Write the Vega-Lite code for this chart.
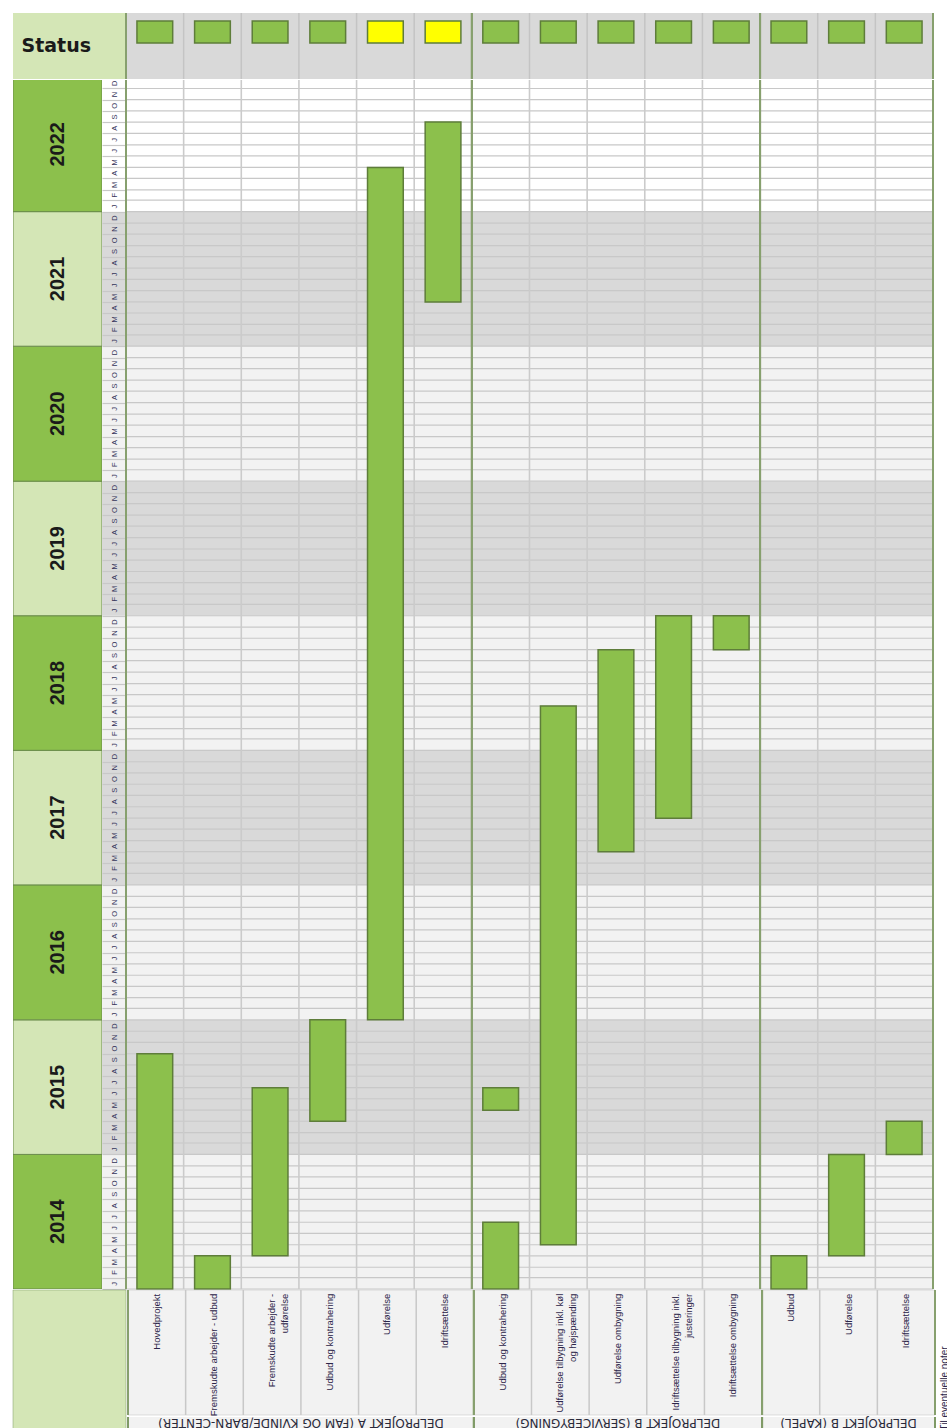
{
  "$schema": "https://vega.github.io/schema/vega-lite/v6.json",
  "padding": {"left": 12, "top": 12, "right": 0, "bottom": 0},
  "background": "#FFFFFF",
  "config": {"view": {"stroke": null}, "font": "Liberation Sans"},
  "datasets": {
    "tasks": [
      {"key": "A1", "label": "Hovedprojekt", "status": "green"},
      {"key": "A2", "label": "Fremskudte arbejder - udbud", "status": "green"},
      {"key": "A3", "label": ["Fremskudte arbejder -", "udførelse"], "status": "green"},
      {"key": "A4", "label": "Udbud og kontrahering", "status": "green"},
      {"key": "A5", "label": "Udførelse", "status": "yellow"},
      {"key": "A6", "label": "Idriftsættelse", "status": "yellow"},
      {"key": "B1", "label": "Udbud og kontrahering", "status": "green"},
      {"key": "B2", "label": ["Udførelse tilbygning inkl. køl", "og højspænding"], "status": "green"},
      {"key": "B3", "label": "Udførelse ombygning", "status": "green"},
      {"key": "B4", "label": ["Idriftsættelse tilbygning inkl.", "justeringer"], "status": "green"},
      {"key": "B5", "label": "Idriftsættelse ombygning", "status": "green"},
      {"key": "K1", "label": "Udbud", "status": "green"},
      {"key": "K2", "label": "Udførelse", "status": "green"},
      {"key": "K3", "label": "Idriftsættelse", "status": "green"}
    ],
    "bars": [
      {"key": "A1", "start": "2014-01-01", "end": "2015-10-01"},
      {"key": "A2", "start": "2014-01-01", "end": "2014-04-01"},
      {"key": "A3", "start": "2014-04-01", "end": "2015-07-01"},
      {"key": "A4", "start": "2015-04-01", "end": "2016-01-01"},
      {"key": "A5", "start": "2016-01-01", "end": "2022-05-01"},
      {"key": "A6", "start": "2021-05-01", "end": "2022-09-01"},
      {"key": "B1", "start": "2014-01-01", "end": "2014-07-01"},
      {"key": "B1", "start": "2015-05-01", "end": "2015-07-01"},
      {"key": "B2", "start": "2014-05-01", "end": "2018-05-01"},
      {"key": "B3", "start": "2017-04-01", "end": "2018-10-01"},
      {"key": "B4", "start": "2017-07-01", "end": "2019-01-01"},
      {"key": "B5", "start": "2018-10-01", "end": "2019-01-01"},
      {"key": "K1", "start": "2014-01-01", "end": "2014-04-01"},
      {"key": "K2", "start": "2014-04-01", "end": "2015-01-01"},
      {"key": "K3", "start": "2015-01-01", "end": "2015-04-01"}
    ],
    "years": [
      {"year": "2014", "start": "2014-01-01", "end": "2015-01-01", "shade": "light"},
      {"year": "2015", "start": "2015-01-01", "end": "2016-01-01", "shade": "dark"},
      {"year": "2016", "start": "2016-01-01", "end": "2017-01-01", "shade": "light"},
      {"year": "2017", "start": "2017-01-01", "end": "2018-01-01", "shade": "dark"},
      {"year": "2018", "start": "2018-01-01", "end": "2019-01-01", "shade": "light"},
      {"year": "2019", "start": "2019-01-01", "end": "2020-01-01", "shade": "dark"},
      {"year": "2020", "start": "2020-01-01", "end": "2021-01-01", "shade": "light"},
      {"year": "2021", "start": "2021-01-01", "end": "2022-01-01", "shade": "dark"},
      {"year": "2022", "start": "2022-01-01", "end": "2023-01-01", "shade": "white"}
    ],
    "months": [
      {"m": "2014-01-01"}, {"m": "2014-02-01"}, {"m": "2014-03-01"}, {"m": "2014-04-01"}, {"m": "2014-05-01"}, {"m": "2014-06-01"}, {"m": "2014-07-01"}, {"m": "2014-08-01"}, {"m": "2014-09-01"}, {"m": "2014-10-01"}, {"m": "2014-11-01"}, {"m": "2014-12-01"},
      {"m": "2015-01-01"}, {"m": "2015-02-01"}, {"m": "2015-03-01"}, {"m": "2015-04-01"}, {"m": "2015-05-01"}, {"m": "2015-06-01"}, {"m": "2015-07-01"}, {"m": "2015-08-01"}, {"m": "2015-09-01"}, {"m": "2015-10-01"}, {"m": "2015-11-01"}, {"m": "2015-12-01"},
      {"m": "2016-01-01"}, {"m": "2016-02-01"}, {"m": "2016-03-01"}, {"m": "2016-04-01"}, {"m": "2016-05-01"}, {"m": "2016-06-01"}, {"m": "2016-07-01"}, {"m": "2016-08-01"}, {"m": "2016-09-01"}, {"m": "2016-10-01"}, {"m": "2016-11-01"}, {"m": "2016-12-01"},
      {"m": "2017-01-01"}, {"m": "2017-02-01"}, {"m": "2017-03-01"}, {"m": "2017-04-01"}, {"m": "2017-05-01"}, {"m": "2017-06-01"}, {"m": "2017-07-01"}, {"m": "2017-08-01"}, {"m": "2017-09-01"}, {"m": "2017-10-01"}, {"m": "2017-11-01"}, {"m": "2017-12-01"},
      {"m": "2018-01-01"}, {"m": "2018-02-01"}, {"m": "2018-03-01"}, {"m": "2018-04-01"}, {"m": "2018-05-01"}, {"m": "2018-06-01"}, {"m": "2018-07-01"}, {"m": "2018-08-01"}, {"m": "2018-09-01"}, {"m": "2018-10-01"}, {"m": "2018-11-01"}, {"m": "2018-12-01"},
      {"m": "2019-01-01"}, {"m": "2019-02-01"}, {"m": "2019-03-01"}, {"m": "2019-04-01"}, {"m": "2019-05-01"}, {"m": "2019-06-01"}, {"m": "2019-07-01"}, {"m": "2019-08-01"}, {"m": "2019-09-01"}, {"m": "2019-10-01"}, {"m": "2019-11-01"}, {"m": "2019-12-01"},
      {"m": "2020-01-01"}, {"m": "2020-02-01"}, {"m": "2020-03-01"}, {"m": "2020-04-01"}, {"m": "2020-05-01"}, {"m": "2020-06-01"}, {"m": "2020-07-01"}, {"m": "2020-08-01"}, {"m": "2020-09-01"}, {"m": "2020-10-01"}, {"m": "2020-11-01"}, {"m": "2020-12-01"},
      {"m": "2021-01-01"}, {"m": "2021-02-01"}, {"m": "2021-03-01"}, {"m": "2021-04-01"}, {"m": "2021-05-01"}, {"m": "2021-06-01"}, {"m": "2021-07-01"}, {"m": "2021-08-01"}, {"m": "2021-09-01"}, {"m": "2021-10-01"}, {"m": "2021-11-01"}, {"m": "2021-12-01"},
      {"m": "2022-01-01"}, {"m": "2022-02-01"}, {"m": "2022-03-01"}, {"m": "2022-04-01"}, {"m": "2022-05-01"}, {"m": "2022-06-01"}, {"m": "2022-07-01"}, {"m": "2022-08-01"}, {"m": "2022-09-01"}, {"m": "2022-10-01"}, {"m": "2022-11-01"}, {"m": "2022-12-01"}
    ],
    "groups": [
      {"group": "A", "first": "A1", "last": "A6", "center": "A4", "title": "DELPROJEKT A (FAM OG KVINDE/BARN-CENTER)"},
      {"group": "B", "first": "B1", "last": "B5", "center": "B3", "title": "DELPROJEKT B (SERVICEBYGNING)"},
      {"group": "K", "first": "K1", "last": "K3", "center": "K2", "title": "DELPROJEKT B (KAPEL)"}
    ]
  },
  "spacing": -2,
  "resolve": {"scale": {"color": "independent", "opacity": "independent", "x": "independent", "y": "independent"}},
  "vconcat": [
    {
      "spacing": -1,
      "resolve": {"scale": {"color": "independent", "opacity": "independent", "x": "independent", "y": "independent"}},
      "hconcat": [
        {
          "width": 113,
          "height": 66,
          "view": {"fill": "#D4E6B6"},
          "data": {"values": [{"label": "Status"}]},
          "mark": {"type": "text", "font": "DejaVu Sans", "fontWeight": "bold", "fontSize": 19, "align": "left", "baseline": "middle", "color": "#1A1A1A"},
          "encoding": {
            "x": {"field": "label", "type": "nominal", "scale": {"type": "point", "align": 0.075}, "axis": null},
            "text": {"field": "label"}
          }
        },
        {
          "width": 807,
          "height": 66,
          "view": {"fill": "#D9D9D9"},
          "layer": [
            {
              "data": {"name": "tasks"},
              "mark": {"type": "rule", "color": "#C4C4C4", "strokeWidth": 1.5},
              "encoding": {"x": {"field": "key", "type": "nominal", "bandPosition": 0, "scale": {"type": "band", "domain": ["A1","A2","A3","A4","A5","A6","B1","B2","B3","B4","B5","K1","K2","K3"], "paddingInner": 0, "paddingOuter": 0}, "axis": null}}
            },
            {
              "data": {"name": "tasks"},
              "mark": {"type": "bar", "width": {"band": 0.62}, "stroke": "#5E7D3A", "strokeWidth": 1.5},
              "encoding": {
                "x": {"field": "key", "type": "nominal", "axis": null},
                "y": {"datum": "status", "type": "nominal", "scale": {"type": "band", "paddingInner": 0, "paddingOuter": 1, "align": 0.18}, "axis": null},
                "color": {"field": "status", "type": "nominal", "scale": {"domain": ["green", "yellow"], "range": ["#8CC04C", "#FFFF00"]}, "legend": null}
              }
            },
            {
              "data": {"name": "groups"},
              "mark": {"type": "rule", "color": "#87A06E", "strokeWidth": 2},
              "encoding": {"x": {"field": "last", "type": "nominal", "bandPosition": 1, "axis": null}}
            },
            {
              "data": {"name": "groups"},
              "mark": {"type": "rule", "color": "#87A06E", "strokeWidth": 2},
              "encoding": {"x": {"field": "first", "type": "nominal", "bandPosition": 0, "axis": null}}
            }
          ]
        }
      ]
    },
    {
      "spacing": -1,
      "resolve": {"scale": {"color": "independent", "opacity": "independent", "x": "independent", "y": "independent"}},
      "hconcat": [
        {
          "width": 89,
          "height": 1209,
          "data": {"name": "years"},
          "layer": [
            {
              "mark": {"type": "rect", "clip": true, "stroke": "#6A8C4A", "strokeWidth": 1},
              "encoding": {
                "y": {"field": "start", "type": "temporal", "scale": {"type": "utc", "domain": [{"year": 2014, "month": 1, "date": 1, "utc": true}, {"year": 2022, "month": 12, "date": 24, "utc": true}]}, "axis": null},
                "y2": {"field": "end"},
                "color": {"field": "shade", "type": "nominal", "scale": {"domain": ["light", "dark", "white"], "range": ["#8CC04C", "#D4E6B6", "#8CC04C"]}, "legend": null}
              }
            },
            {
              "mark": {"type": "text", "font": "Liberation Sans", "fontWeight": "bold", "fontSize": 20, "angle": -90, "align": "center", "baseline": "middle", "color": "#1A1A1A"},
              "encoding": {
                "y": {"field": "start", "type": "temporal", "timeUnit": "utcyear", "bandPosition": 0.5, "axis": null},
                "text": {"field": "year", "type": "nominal"}
              }
            }
          ]
        },
        {
          "width": 24,
          "height": 1209,
          "view": {"fill": "#FFFFFF"},
          "data": {"name": "years"},
          "mark": {"type": "rect", "clip": true},
          "encoding": {
            "y": {"field": "start", "type": "temporal", "scale": {"type": "utc", "domain": [{"year": 2014, "month": 1, "date": 1, "utc": true}, {"year": 2022, "month": 12, "date": 24, "utc": true}]},
              "axis": {"orient": "right", "zindex": 1, "grid": true, "tickCount": {"interval": "month", "step": 1}, "ticks": false, "tickSize": 0, "domain": false, "title": null,
                "labelExpr": "substring(utcFormat(datum.value, '%b'), 0, 1)", "labelAngle": -90, "labelAlign": "center", "labelBaseline": "middle", "labelPadding": -12, "labelOffset": -5.6,
                "labelFontSize": 7.5, "labelColor": "#34345A", "labelOverlap": false, "labelBound": false, "labelFlush": false, "gridColor": "#C8C8C8", "gridWidth": 1.2}},
            "y2": {"field": "end"},
            "color": {"field": "shade", "type": "nominal", "scale": {"domain": ["dark", "light", "white"], "range": ["#D9D9D9", "#F2F2F2", "#FFFFFF"]}, "legend": null}
          }
        },
        {
          "width": 807,
          "height": 1209,
          "view": {"fill": "#FFFFFF"},
          "layer": [
            {
              "data": {"name": "years"},
              "mark": {"type": "rect", "clip": true},
              "encoding": {
                "y": {"field": "start", "type": "temporal", "scale": {"type": "utc", "domain": [{"year": 2014, "month": 1, "date": 1, "utc": true}, {"year": 2022, "month": 12, "date": 24, "utc": true}]}, "axis": null},
                "y2": {"field": "end"},
                "color": {"field": "shade", "type": "nominal", "scale": {"domain": ["dark", "light", "white"], "range": ["#D9D9D9", "#F2F2F2", "#FFFFFF"]}, "legend": null}
              }
            },
            {
              "data": {"name": "months"},
              "mark": {"type": "rule", "color": "#C8C8C8", "strokeWidth": 1.2},
              "encoding": {"y": {"field": "m", "type": "temporal", "axis": null}}
            },
            {
              "data": {"name": "tasks"},
              "mark": {"type": "rule", "color": "#CBCBCB", "strokeWidth": 1.6},
              "encoding": {"x": {"field": "key", "type": "nominal", "bandPosition": 0, "scale": {"type": "band", "domain": ["A1","A2","A3","A4","A5","A6","B1","B2","B3","B4","B5","K1","K2","K3"], "paddingInner": 0, "paddingOuter": 0}, "axis": null}}
            },
            {
              "data": {"name": "bars"},
              "mark": {"type": "bar", "width": {"band": 0.62}, "color": "#8CC04C", "stroke": "#5E7D3A", "strokeWidth": 1.5},
              "encoding": {
                "x": {"field": "key", "type": "nominal", "axis": null},
                "y": {"field": "start", "type": "temporal", "axis": null},
                "y2": {"field": "end"}
              }
            },
            {
              "data": {"name": "groups"},
              "mark": {"type": "rule", "color": "#87A06E", "strokeWidth": 2},
              "encoding": {"x": {"field": "last", "type": "nominal", "bandPosition": 1, "axis": null}}
            },
            {
              "data": {"name": "groups"},
              "mark": {"type": "rule", "color": "#87A06E", "strokeWidth": 2},
              "encoding": {"x": {"field": "first", "type": "nominal", "bandPosition": 0, "axis": null}}
            }
          ]
        }
      ]
    },
    {
      "spacing": -1,
      "resolve": {"scale": {"color": "independent", "opacity": "independent", "x": "independent", "y": "independent"}},
      "hconcat": [
        {
          "width": 113,
          "height": 141,
          "view": {"fill": "#D4E6B6", "stroke": "#7F9A66", "strokeWidth": 0.5},
          "data": {"values": [{"note": ""}]},
          "mark": {"type": "text"},
          "encoding": {"text": {"field": "note"}}
        },
        {
          "spacing": -2,
          "resolve": {"scale": {"color": "independent", "opacity": "independent", "x": "independent", "y": "independent"}},
          "vconcat": [
            {
              "width": 807,
              "height": 125,
              "view": {"fill": "#F2F2F2", "stroke": "#BDBDBD", "strokeWidth": 0.5},
              "layer": [
                {
                  "data": {"name": "tasks"},
                  "mark": {"type": "rule", "color": "#C8C8C8", "strokeWidth": 1.5},
                  "encoding": {"x": {"field": "key", "type": "nominal", "bandPosition": 0, "scale": {"type": "band", "domain": ["A1","A2","A3","A4","A5","A6","B1","B2","B3","B4","B5","K1","K2","K3"], "paddingInner": 0, "paddingOuter": 0}, "axis": null}}
                },
                {
                  "data": {"name": "tasks"},
                  "mark": {"type": "text", "angle": -90, "align": "right", "baseline": "middle", "fontSize": 9.5, "lineHeight": 13, "color": "#2B2448", "font": "Liberation Sans"},
                  "encoding": {
                    "x": {"field": "key", "type": "nominal", "axis": null},
                    "y": {"datum": "label", "type": "nominal", "scale": {"type": "point", "align": 0.03}, "axis": null},
                    "text": {"field": "label"}
                  }
                },
                {
                  "data": {"name": "groups"},
                  "mark": {"type": "rule", "color": "#87A06E", "strokeWidth": 2},
                  "encoding": {"x": {"field": "last", "type": "nominal", "bandPosition": 1, "axis": null}}
                },
                {
                  "data": {"name": "groups"},
                  "mark": {"type": "rule", "color": "#87A06E", "strokeWidth": 2},
                  "encoding": {"x": {"field": "first", "type": "nominal", "bandPosition": 0, "axis": null}}
                }
              ]
            },
            {
              "width": 807,
              "height": 16,
              "view": {"fill": "#F2F2F2"},
              "layer": [
                {
                  "data": {"name": "groups"},
                  "transform": [{"filter": "datum.group === 'A'"}],
                  "mark": {"type": "text", "angle": 180, "align": "center", "baseline": "alphabetic", "fontSize": 12, "font": "DejaVu Sans", "color": "#2A2A3A"},
                  "encoding": {
                    "x": {"field": "center", "type": "nominal", "bandPosition": 0, "scale": {"type": "band", "domain": ["A1","A2","A3","A4","A5","A6","B1","B2","B3","B4","B5","K1","K2","K3"], "paddingInner": 0, "paddingOuter": 0}, "axis": null},
                    "y": {"datum": "group", "type": "nominal", "scale": {"type": "point", "align": 0.15}, "axis": null},
                    "text": {"field": "title"}
                  }
                },
                {
                  "data": {"name": "groups"},
                  "transform": [{"filter": "datum.group !== 'A'"}],
                  "mark": {"type": "text", "angle": 180, "align": "center", "baseline": "alphabetic", "fontSize": 12, "font": "DejaVu Sans", "color": "#2A2A3A"},
                  "encoding": {
                    "x": {"field": "center", "type": "nominal", "bandPosition": 0.5, "axis": null},
                    "y": {"datum": "group", "type": "nominal", "axis": null},
                    "text": {"field": "title"}
                  }
                },
                {
                  "data": {"name": "groups"},
                  "mark": {"type": "rule", "color": "#7F9A66", "strokeWidth": 2},
                  "encoding": {"x": {"field": "last", "type": "nominal", "bandPosition": 1, "axis": null}}
                },
                {
                  "data": {"name": "groups"},
                  "mark": {"type": "rule", "color": "#7F9A66", "strokeWidth": 2},
                  "encoding": {"x": {"field": "first", "type": "nominal", "bandPosition": 0, "axis": null}}
                }
              ]
            }
          ]
        },
        {
          "width": 15,
          "height": 141,
          "data": {"values": [{"note": "Til eventuelle noter", "row": "note"}]},
          "mark": {"type": "text", "angle": -90, "align": "right", "baseline": "middle", "fontSize": 10, "color": "#2B2448", "font": "Liberation Sans"},
          "encoding": {
            "y": {"field": "row", "type": "nominal", "scale": {"type": "point", "align": 0.4}, "axis": null},
            "text": {"field": "note"}
          }
        }
      ]
    }
  ]
}
